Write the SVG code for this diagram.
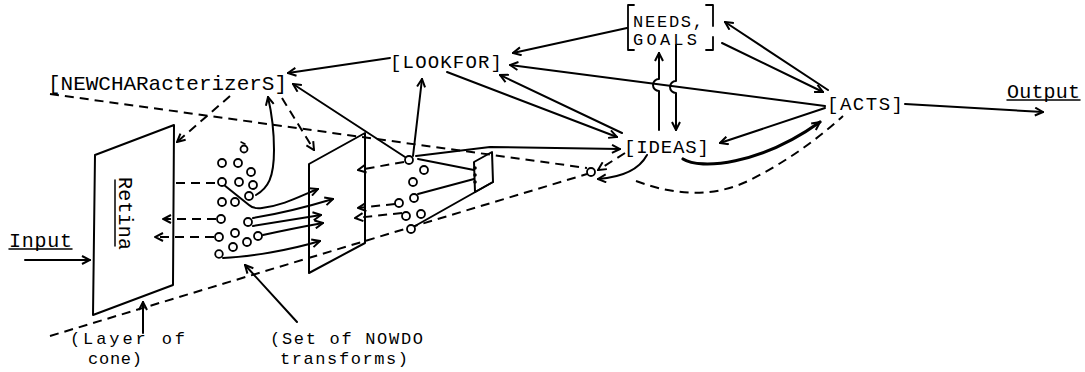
<svg xmlns="http://www.w3.org/2000/svg" width="1085" height="372" viewBox="0 0 1085 372">
<style>
text{font-family:"Liberation Mono","DejaVu Sans Mono",monospace;fill:#000}
.t{font-size:20px}
.b{font-size:17px}
.s{fill:none;stroke:#000;stroke-width:2;stroke-linecap:round;stroke-linejoin:round}
.d{fill:none;stroke:#000;stroke-width:2;stroke-dasharray:9 6}
.c{fill:#fff;stroke:#000;stroke-width:1.8}
.a{marker-end:url(#ah)}
</style>
<defs>
<marker id="ah" viewBox="0 0 10 10" refX="9" refY="5" markerWidth="10" markerHeight="10" markerUnits="userSpaceOnUse" orient="auto">
<path d="M1,1 L9,5 L1,9" fill="none" stroke="#000" stroke-width="2"/>
</marker>
</defs>
<rect width="1085" height="372" fill="#fff"/>

<g id="connectors">
<!-- dashed -->
<path class="d" d="M50 94 L587 168"/>
<path class="d" d="M50 336 L587 174"/>
<path class="d" d="M176 183 L217 183"/>
<path class="d a" d="M216 219 L163 219"/>
<path class="d a" d="M214 237 L155 237"/>
<path class="d a" d="M404 162 L358 170"/>
<path class="d a" d="M395 204 L358 208"/>
<path class="d a" d="M402 213 L355 218"/>
<path class="d a" d="M230 96 L177 142"/>
<path class="d a" d="M282 98 L314 150"/>
<path class="d a" d="M625 153 L598 170"/>
<path class="d" d="M636 181 Q700 205 750 180 Q800 155 843 116"/>
<!-- solid -->
<path class="s a" d="M25 260 L90 260"/>
<path class="s a" d="M143 333 L143 302"/>
<path class="s a" d="M297 322 L245 265"/>
<path class="s a" d="M224 185 L249 205 Q253 209 262 208 C285 205 300 196 318 189"/>
<path class="s a" d="M253 218 Q290 212 333 199"/>
<path class="s a" d="M253 226 L321 215"/>
<path class="s a" d="M263 235 Q295 228 323 223"/>
<path class="s a" d="M223 258 C250 257 290 250 320 241"/>
<path class="s a" d="M256 195 C268 188 274 178 274 150 C274 125 271 110 268 97"/>
<path class="s a" d="M405 157 L293 84"/>
<path class="s a" d="M413 156 L422 79"/>
<path class="s a" d="M416 156 L490 147 L620 149"/>
<path class="s" d="M418 159 L474 170"/>
<path class="s" d="M418 194 L474 179"/>
<path class="s" d="M415 226 L493 182"/>
<path class="s a" d="M647 155 C640 168 625 177 598 179"/>
<path class="s a" d="M683 159 C700 170 760 165 820 122" style="stroke-width:3.2"/>
<path class="s a" d="M825 108 L720 143"/>
<path class="s a" d="M447 72 L617 137"/>
<path class="s a" d="M622 133 L500 75"/>
<path class="s a" d="M825 106 L510 65"/>
<path class="s a" d="M627 28 L513 53"/>
<path class="s a" d="M390 58 L288 73"/>
<path class="s a" d="M828 90 L725 22"/>
<path class="s a" d="M722 43 L823 92"/>
<path class="s a" d="M659 130 L659 91 A6 6 0 0 1 659 79 L659 53"/>
<path class="s a" d="M676 45 L676 81 A6 6 0 0 0 676 93 L676 130"/>
<path class="s a" d="M905 104 L1043 112"/>
</g>

<g id="retina">
<polygon class="s" points="95,155 174,125 173,285 93,315"/>
<text class="t" transform="translate(119,177) rotate(90)" textLength="73">Retina</text>
<line class="s" x1="115" y1="180" x2="115" y2="246" style="stroke-width:1.5"/>
</g>

<g id="nowdo-plane">
<polygon class="s" points="309,164 365,133 365,243 309,273"/>
</g>

<g id="small-plane">
<polygon class="s" points="474,162 492,152 493,182 475,192"/>
<circle cx="475" cy="168" r="1.8" fill="#000"/>
<circle cx="475" cy="175" r="1.8" fill="#000"/>
<circle cx="475" cy="182" r="1.8" fill="#000"/>
</g>

<g id="nowdo-cluster">
<circle class="c" cx="244" cy="149" r="3.5"/>
<line class="s" x1="241" y1="142" x2="245" y2="144" style="stroke-width:1.5"/>
<circle class="c" cx="222" cy="163" r="4"/>
<circle class="c" cx="238" cy="163" r="4"/>
<circle class="c" cx="251" cy="172" r="4"/>
<circle class="c" cx="222" cy="182" r="4"/>
<circle class="c" cx="239" cy="182" r="4"/>
<circle class="c" cx="253" cy="185" r="4"/>
<circle class="c" cx="222" cy="202" r="4"/>
<circle class="c" cx="235" cy="202" r="4"/>
<circle class="c" cx="249" cy="196" r="4"/>
<circle class="c" cx="221" cy="219" r="4"/>
<circle class="c" cx="248" cy="222" r="4"/>
<circle class="c" cx="219" cy="237" r="4"/>
<circle class="c" cx="235" cy="233" r="4"/>
<circle class="c" cx="247" cy="242" r="4"/>
<circle class="c" cx="258" cy="236" r="4"/>
<circle class="c" cx="233" cy="247" r="4"/>
<circle class="c" cx="219" cy="254" r="3.8"/>
</g>

<g id="second-cluster">
<circle class="c" cx="409" cy="160" r="4"/>
<circle class="c" cx="424" cy="170" r="4"/>
<circle class="c" cx="413" cy="182" r="4"/>
<circle class="c" cx="414" cy="198" r="4"/>
<circle class="c" cx="399" cy="203" r="4"/>
<circle class="c" cx="406" cy="216" r="4"/>
<circle class="c" cx="421" cy="214" r="4"/>
<circle class="c" cx="411" cy="229" r="4"/>
</g>

<g id="ideas-circle">
<circle class="c" cx="591" cy="172" r="4"/>
</g>

<g id="newcharacterizers">
<text class="t" x="48" y="90" textLength="239" style="font-size:21px">[NEWCHARacterizerS]</text>
</g>

<g id="lookfor">
<text class="t" x="390" y="68" textLength="112" style="font-size:19px">[LOOKFOR]</text>
</g>

<g id="needs-goals">
<path class="s" d="M634 5 L628 5 L628 50 L634 50" style="stroke-width:1.8"/>
<path class="s" d="M706 5 L713 5 L713 26 M706 50 L713 50 L713 37" style="stroke-width:1.8"/>
<text x="633" y="27" textLength="70" style="font-size:17px">NEEDS,</text>
<text x="633" y="45" textLength="64" style="font-size:17px">GOALS</text>
</g>

<g id="ideas">
<text class="t" x="624" y="153" textLength="85" style="font-size:19px">[IDEAS]</text>
</g>

<g id="acts">
<text class="t" x="827" y="110" textLength="76" style="font-size:19px">[ACTS]</text>
</g>

<g id="output">
<text class="t" x="1007" y="98" textLength="73">Output</text>
<line class="s" x1="1007" y1="100" x2="1080" y2="100" style="stroke-width:1.5"/>
</g>

<g id="input">
<text class="t" x="9" y="247" textLength="63">Input</text>
<line class="s" x1="9" y1="249" x2="72" y2="249" style="stroke-width:1.5"/>
</g>

<g id="layer-label">
<text class="b" x="70" y="344" textLength="115">(Layer of</text>
<text class="b" x="88" y="364" textLength="54">cone)</text>
</g>

<g id="nowdo-label">
<text class="b" x="270" y="344" textLength="153">(Set of NOWDO</text>
<text class="b" x="280" y="364" textLength="128">transforms)</text>
</g>
</svg>
